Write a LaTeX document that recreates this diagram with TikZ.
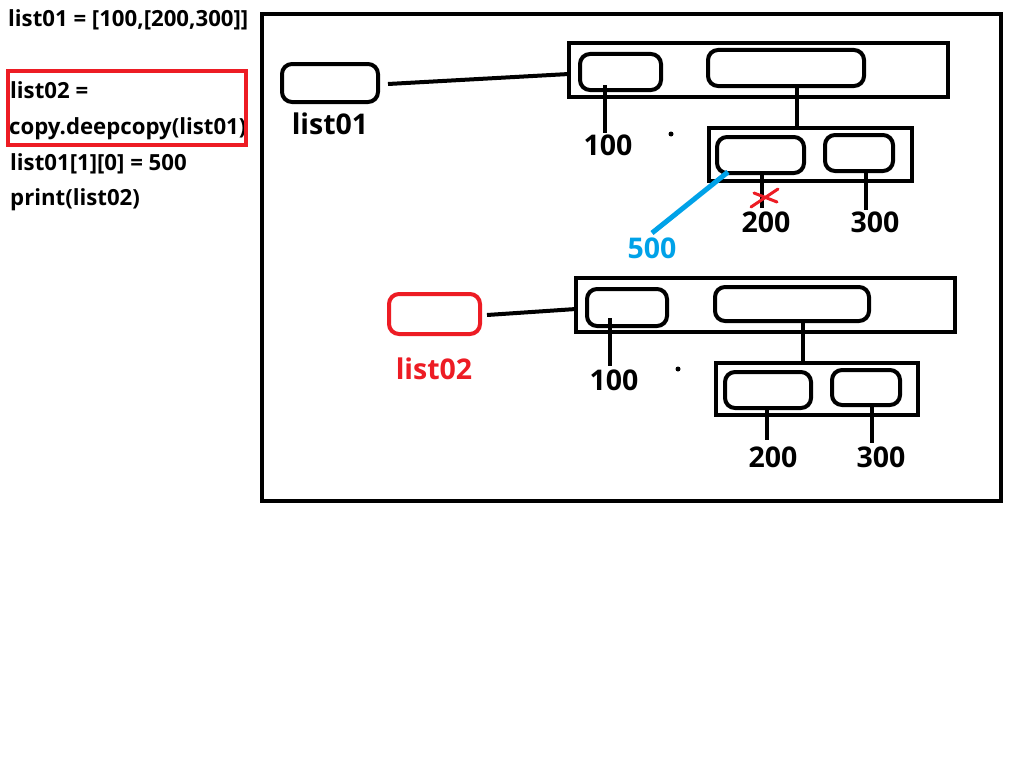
\documentclass[tikz,border=0pt]{standalone}
\usepackage{fontspec}
\setmainfont{Open Sans}
\definecolor{pred}{HTML}{ED1C24}
\definecolor{pblue}{HTML}{00A2E8}
\begin{document}
\begin{tikzpicture}[x=1pt,y=-1pt,
  code/.style={anchor=base west,inner sep=0pt,font=\fontsize{22.2}{26}\selectfont\bfseries},
  arr/.style={draw,line width=4pt,rectangle,inner sep=0pt,outer sep=0pt},
  cell/.style={draw,line width=4pt,rounded corners=10pt,inner sep=0pt,outer sep=0pt},
  val/.style={inner sep=0pt,outer sep=0pt,text height=20pt,text depth=0pt,font=\fontsize{28.5}{30}\selectfont\bfseries},
  conn/.style={line width=4pt},
  dotm/.style={circle,fill=black,inner sep=0pt,minimum size=5pt}]
\useasboundingbox (0,0) rectangle (1024,768);
\fill[white] (0,0) rectangle (1024,768);
% code
\node[code] (c1) at (8,27) {list01 = [100,[200,300]]};
\node[code] (c2) at (10,98) {list02 =};
\node[code] (c3) at (9,134) {copy.deepcopy(list01)};
\node[code] (c4) at (10,170) {list01[1][0] = 500};
\node[code] (c5) at (10,205) {print(list02)};
\node[draw=pred,line width=4pt,inner sep=0pt,minimum width=238pt,minimum height=74pt] (redbox) at (127,108) {};
% frame
\node[arr,minimum width=739pt,minimum height=487pt] (frame) at (631.5,257.5) {};
% ---- top group
\node[cell,minimum width=96pt,minimum height=38pt] (l1box) at (330,83) {};
\node[val] (l1lab) at (330,124) {list01};
\node[arr,minimum width=379pt,minimum height=54pt] (arrA) at (758.5,70) {};
\node[cell,minimum width=81pt,minimum height=36pt] (cellA1) at (620.5,72) {};
\node[cell,minimum width=156pt,minimum height=36pt] (cellA2) at (786,68) {};
\node[arr,minimum width=203pt,minimum height=53pt] (subA) at (810.5,154.5) {};
\node[cell,minimum width=87pt,minimum height=36pt] (subA1) at (760.5,155) {};
\node[cell,minimum width=68pt,minimum height=36pt] (subA2) at (859,153) {};
\node[val] (a100) at (608,145) {100};
\node[val] (a200) at (766,222) {200};
\node[val] (a300) at (875,222) {300};
\node[val,text=pblue] (a500) at (652,248) {500};
\node[dotm] (dA) at (671,134) {};
\draw[conn] ([xshift=10pt,yshift=-1pt]l1box.east) -- ([yshift=-4pt]arrA.west);
\draw[conn] ([xshift=-15.5pt,yshift=5pt]cellA1.south) -- ([xshift=-3pt,yshift=2pt]a100.north);
\draw[conn] ([xshift=11pt]cellA2.south) -- ([xshift=11pt]cellA2.south |- subA.north);
\draw[conn] ([xshift=1.5pt]subA1.south) -- ([xshift=-4pt,yshift=4pt]a200.north);
\draw[conn] ([xshift=7pt]subA2.south) -- ([xshift=-9pt,yshift=2pt]a300.north);
\draw[pblue,line width=5pt] ([xshift=11pt,yshift=1pt]subA1.south west) -- ([yshift=5pt]a500.north);
\coordinate (xm) at (765,198);
\draw[pred,line width=3pt,line cap=round] ([xshift=-11pt,yshift=5pt]xm) -- ([xshift=12pt,yshift=-4pt]xm);
\draw[pred,line width=3pt,line cap=round] ([xshift=-14pt,yshift=-9pt]xm) -- ([xshift=13pt,yshift=9pt]xm);
% ---- bottom group
\node[cell,draw=pred,minimum width=91pt,minimum height=40pt] (l2box) at (434.5,314) {};
\node[val,text=pred] (l2lab) at (434,369) {list02};
\node[arr,minimum width=379pt,minimum height=54pt] (arrB) at (765.5,305) {};
\node[cell,minimum width=80pt,minimum height=37pt] (cellB1) at (627,307.5) {};
\node[cell,minimum width=154pt,minimum height=34pt] (cellB2) at (792,304) {};
\node[arr,minimum width=202pt,minimum height=52pt] (subB) at (817,389) {};
\node[cell,minimum width=86pt,minimum height=36pt] (subB1) at (768,390) {};
\node[cell,minimum width=68pt,minimum height=35pt] (subB2) at (866,387.5) {};
\node[val] (b100) at (614,380) {100};
\node[val] (b200) at (773,457) {200};
\node[val] (b300) at (881,457) {300};
\node[dotm] (dB) at (678,369) {};
\draw[conn] ([xshift=7pt,yshift=-1pt]l2box.east) -- ([yshift=-4pt]arrB.west);
\draw[conn] ([xshift=-17pt,yshift=8pt]cellB1.south) -- ([xshift=-4pt,yshift=4pt]b100.north);
\draw[conn] ([xshift=11pt]cellB2.south) -- ([xshift=11pt]cellB2.south |- subB.north);
\draw[conn] ([xshift=-1pt]subB1.south) -- ([xshift=-6pt,yshift=7pt]b200.north);
\draw[conn] ([xshift=6pt]subB2.south) -- ([xshift=-9pt,yshift=4pt]b300.north);
\end{tikzpicture}
\end{document}
